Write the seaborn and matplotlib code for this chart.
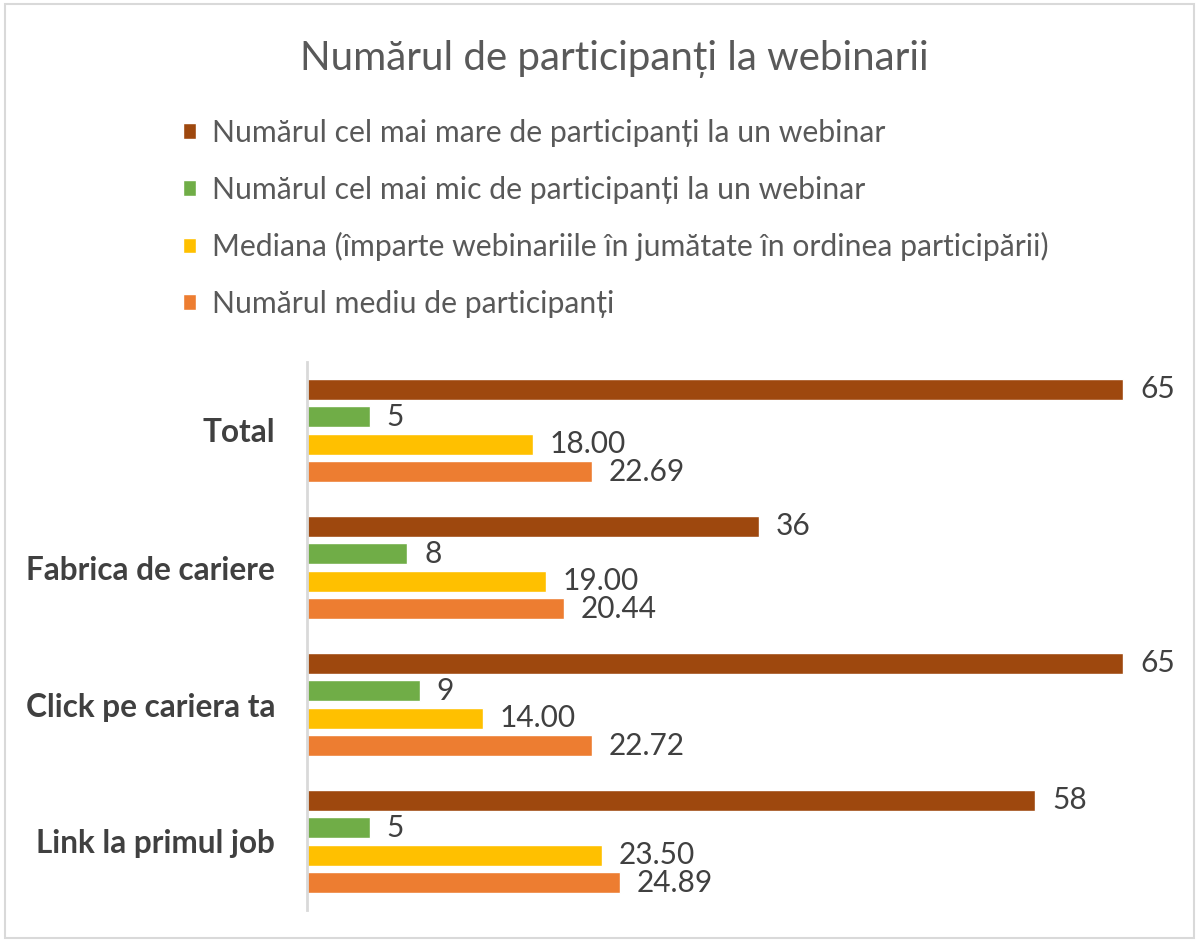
import matplotlib
matplotlib.use("Agg")
import matplotlib.pyplot as plt
import matplotlib.patches as mpatches
import seaborn as sns
import pandas as pd

# Data
categories = ["Total", "Fabrica de cariere", "Click pe cariera ta", "Link la primul job"]
series_names = [
    "Numărul cel mai mare de participanți la un webinar",
    "Numărul cel mai mic de participanți la un webinar",
    "Mediana (împarte webinariile în jumătate în ordinea participării)",
    "Numărul mediu de participanți",
]
max_vals = [65, 36, 65, 58]
min_vals = [5, 8, 9, 5]
median_vals = [18.00, 19.00, 14.00, 23.50]
mean_vals = [22.69, 20.44, 22.72, 24.89]
label_fmts = ["{:.0f}", "{:.0f}", "{:.2f}", "{:.2f}"]
colors = ["#9E480E", "#70AD47", "#FFC000", "#ED7D31"]

# Build long-form table for seaborn
rows = []
for name, vals in zip(series_names, [max_vals, min_vals, median_vals, mean_vals]):
    for cat, v in zip(categories, vals):
        rows.append({"Categorie": cat, "Serie": name, "Valoare": v})
df = pd.DataFrame(rows)

sns.set_theme(style="white")
plt.rcParams["font.family"] = ["Lato", "DejaVu Sans"]

fig = plt.figure(figsize=(11.99, 9.42), dpi=100)
ax = fig.add_axes([307 / 1199, 1 - 910 / 942, (1186 - 307) / 1199, (910 - 362) / 942])

sns.barplot(data=df, x="Valoare", y="Categorie", hue="Serie", order=categories,
            hue_order=series_names, palette=colors, orient="h", width=0.8,
            gap=0.24, saturation=1, ax=ax, legend=True)

# Value labels next to each bar
for cont, fmt in zip(ax.containers, label_fmts):
    ax.bar_label(cont, labels=[fmt.format(b.get_width()) for b in cont],
                 padding=12, fontsize=21.5, color="#404040")

ax.set_xlim(0, 70)
ax.set_ylim(3.5, -0.5)
ax.set_xlabel("")
ax.set_ylabel("")
ax.set_xticks([])
for side in ["top", "right", "bottom"]:
    ax.spines[side].set_visible(False)
ax.spines["left"].set_color("#D9D9D9")
ax.spines["left"].set_linewidth(2)
ax.tick_params(axis="y", length=0, pad=23)
for t in ax.get_yticklabels():
    t.set_fontsize(22.7)
    t.set_fontweight("bold")
    t.set_color("#404040")

# Legend at top, one entry per row
handles, labels = ax.get_legend_handles_labels()
ax.get_legend().remove()
fig.legend(handles, labels, loc="upper left", bbox_to_anchor=(183 / 1199, 1 - 119 / 942),
           frameon=False, fontsize=21.7, labelcolor="#595959", handlelength=0.42,
           handleheight=0.42, handletextpad=0.55, labelspacing=0.95,
           borderpad=0, borderaxespad=0)

fig.suptitle("Numărul de participanți la webinarii", x=0.512, y=1 - 40 / 942,
             fontsize=29, color="#595959", va="top")

# Light border around the chart area
fig.patches.append(mpatches.Rectangle((0.004, 0.004), 0.992, 0.992, transform=fig.transFigure,
                                      fill=False, edgecolor="#D9D9D9", linewidth=1.5))

fig.savefig("out.png", dpi=100)
